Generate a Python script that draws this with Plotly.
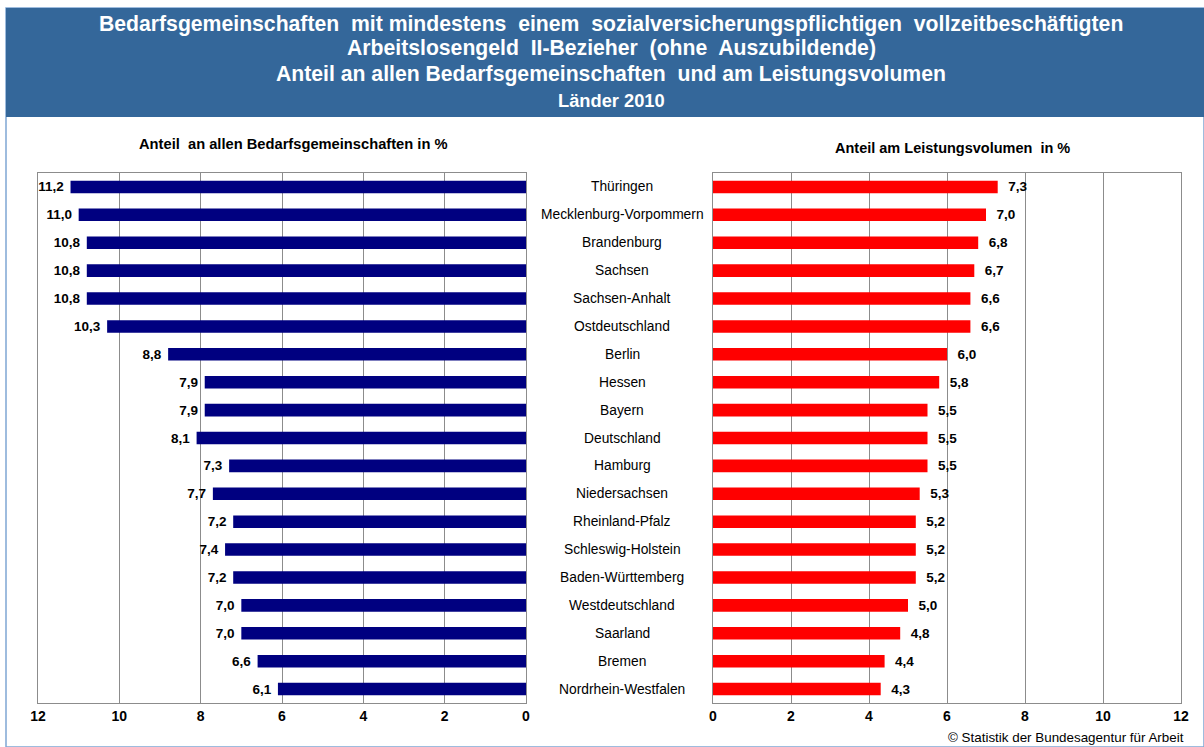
import plotly.graph_objects as go

categories = ["Thüringen", "Mecklenburg-Vorpommern", "Brandenburg", "Sachsen", "Sachsen-Anhalt",
              "Ostdeutschland", "Berlin", "Hessen", "Bayern", "Deutschland", "Hamburg",
              "Niedersachsen", "Rheinland-Pfalz", "Schleswig-Holstein", "Baden-Württemberg",
              "Westdeutschland", "Saarland", "Bremen", "Nordrhein-Westfalen"]
anteil_bg = [11.2, 11.0, 10.8, 10.8, 10.8, 10.3, 8.8, 7.9, 7.9, 8.1, 7.3, 7.7, 7.2, 7.4, 7.2, 7.0, 7.0, 6.6, 6.1]
anteil_lv = [7.3, 7.0, 6.8, 6.7, 6.6, 6.6, 6.0, 5.8, 5.5, 5.5, 5.5, 5.3, 5.2, 5.2, 5.2, 5.0, 4.8, 4.4, 4.3]
tick_vals = [0, 2, 4, 6, 8, 10, 12]

W, H = 1204, 747
FONT = "Liberation Sans, Arial, sans-serif"

def px(x):
    return x / W

def py(y):
    return 1 - y / H

fig = go.Figure()
fig.add_trace(go.Bar(y=categories, x=anteil_bg, orientation="h", marker=dict(color="#000080", line=dict(width=0)),
                     texttemplate="%{x:.1f}\u00a0", textposition="outside", cliponaxis=False, constraintext="none",
                     textfont=dict(family=FONT, size=13.5, color="black", weight="bold"),
                     xaxis="x", yaxis="y", showlegend=False))
fig.add_trace(go.Bar(y=categories, x=anteil_lv, orientation="h", marker=dict(color="#FF0000", line=dict(width=0)),
                     texttemplate="\u00a0\u00a0%{x:.1f}", textposition="outside", cliponaxis=False, constraintext="none",
                     textfont=dict(family=FONT, size=13.5, color="black", weight="bold"),
                     xaxis="x2", yaxis="y2", showlegend=False))

ydom = [py(703), py(173)]
axis_common = dict(showgrid=True, gridcolor="#8c8c8c", gridwidth=1, showline=True, linecolor="#8c8c8c",
                   linewidth=1, mirror=True, zeroline=False, tickvals=tick_vals, ticks="",
                   tickfont=dict(family=FONT, size=14, color="black", weight="bold"), ticklen=0,
                   automargin=False)
yaxis_common = dict(domain=ydom, autorange="reversed", showticklabels=False, showgrid=False,
                    showline=True, linecolor="#8c8c8c", mirror=True, ticks="", automargin=False)
fig.update_layout(
    width=W, height=H, margin=dict(l=0, r=0, t=0, b=0, autoexpand=False),
    paper_bgcolor="white", plot_bgcolor="white",
    separators=",.", bargap=0.55,
    font=dict(family=FONT),
    xaxis=dict(domain=[px(38), px(526)], range=[12, 0], anchor="y", **axis_common),
    xaxis2=dict(domain=[px(713), px(1181)], range=[0, 12], anchor="y2", **axis_common),
    yaxis=dict(anchor="x", **yaxis_common),
    yaxis2=dict(anchor="x2", **yaxis_common),
)

shapes = [
    dict(type="rect", xref="paper", yref="paper", x0=px(6), x1=1.0, y0=py(747), y1=py(8),
         line=dict(color="#7fa7d4", width=1.5), fillcolor="rgba(0,0,0,0)", layer="below"),
    dict(type="rect", xref="paper", yref="paper", x0=px(6), x1=1.0, y0=py(117), y1=py(8),
         line=dict(width=0), fillcolor="#34679a", layer="below"),
]
fig.update_layout(shapes=shapes)

ann = []
title_lines = [
    ("Bedarfsgemeinschaften  mit mindestens  einem  sozialversicherungspflichtigen  vollzeitbeschäftigten", 24, 21.2),
    ("Arbeitslosengeld  II-Bezieher  (ohne  Auszubildende)", 48, 21.2),
    ("Anteil an allen Bedarfsgemeinschaften  und am Leistungsvolumen", 74, 21.2),
    ("Länder 2010", 100, 18.3),
]
for t, y, s in title_lines:
    ann.append(dict(text=t, x=px(611), y=py(y), xref="paper", yref="paper", showarrow=False,
                    xanchor="center", yanchor="middle",
                    font=dict(family=FONT, size=s, color="white", weight="bold")))
ann.append(dict(text="Anteil  an allen Bedarfsgemeinschaften in %", x=px(293), y=py(144), xref="paper", yref="paper",
                showarrow=False, xanchor="center", yanchor="middle",
                font=dict(family=FONT, size=14.7, color="black", weight="bold")))
ann.append(dict(text="Anteil am Leistungsvolumen  in %", x=px(952), y=py(148), xref="paper", yref="paper",
                showarrow=False, xanchor="center", yanchor="middle",
                font=dict(family=FONT, size=14.5, color="black", weight="bold")))
for c in categories:
    ann.append(dict(text=c, x=px(622), y=c, xref="paper", yref="y", showarrow=False,
                    xanchor="center", yanchor="middle",
                    font=dict(family=FONT, size=13.8, color="black")))
ann.append(dict(text="© Statistik der Bundesagentur für Arbeit", x=px(1186), y=py(737), xref="paper", yref="paper",
                showarrow=False, xanchor="right", yanchor="middle",
                font=dict(family=FONT, size=13.4, color="black")))
fig.update_layout(annotations=ann)

fig.write_html("out.html")
